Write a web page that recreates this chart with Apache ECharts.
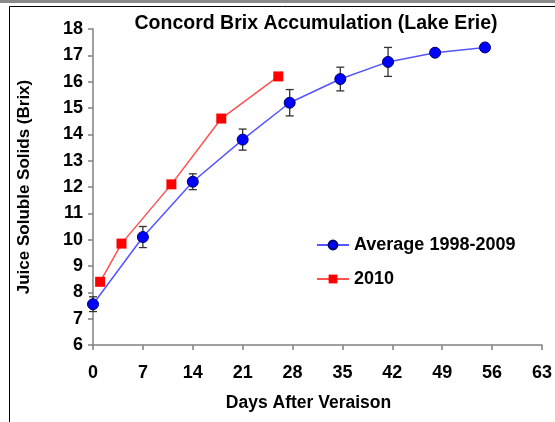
<!DOCTYPE html>
<html><head><meta charset="utf-8">
<script src="https://cdn.jsdelivr.net/npm/echarts@6/dist/echarts.min.js"></script>
<style>html,body{margin:0;padding:0;background:#fff}#c{width:555px;height:422px}</style>
</head><body><div id="c"></div>
<script>
var avgDays = [0, 7, 14, 21, 27.6, 34.7, 41.4, 48, 55];
var avgBrix = [7.55, 10.1, 12.2, 13.8, 15.2, 16.1, 16.75, 17.1, 17.3];
var avgErr  = [0.28, 0.4, 0.3, 0.4, 0.5, 0.45, 0.55, 0, 0];
var days2010 = [1, 4, 11, 18, 26];
var brix2010 = [8.4, 9.85, 12.1, 14.6, 16.2];
var xTicks = [0, 63, 7];
var yTicks = [6, 18, 1];

var avgData = avgDays.map(function(d,i){return [d, avgBrix[i]];});
var errData = avgDays.map(function(d,i){return [d, avgBrix[i]-avgErr[i], avgBrix[i]+avgErr[i]];}).filter(function(r){return r[2]>r[1];});
var data2010 = days2010.map(function(d,i){return [d, brix2010[i]];});

var font = 'Liberation Sans, Arial, sans-serif';
var chart = echarts.init(document.getElementById('c'));
chart.setOption({
  animation: false,
  backgroundColor: '#fff',
  title: {text: 'Concord Brix Accumulation (Lake Erie)', left: 311, top: 9, textAlign: 'center',
    textStyle: {fontFamily: font, fontWeight: 'bold', fontSize: 19.5, color: '#000'}},
  grid: {left: 93, right: 10, top: 29, bottom: 77, containLabel: false},
  legend: {orient: 'vertical', left: 311, top: 231, itemWidth: 32, itemHeight: 11, itemGap: 16,
    textStyle: {fontFamily: font, fontWeight: 'bold', fontSize: 18, color: '#000'},
    data: ['Average 1998-2009', '2010']},
  xAxis: {type: 'value', min: xTicks[0], max: xTicks[1], interval: xTicks[2],
    name: 'Days After Veraison', nameLocation: 'middle', nameGap: 49,
    nameTextStyle: {fontFamily: font, fontWeight: 'bold', fontSize: 17.5, color: '#000', padding: [0, 18, 0, 0]},
    axisLine: {lineStyle: {color: '#808080', width: 1.5}},
    axisTick: {length: 5, lineStyle: {color: '#808080', width: 1.5}},
    axisLabel: {margin: 19, fontFamily: font, fontWeight: 'bold', fontSize: 18, color: '#000'},
    splitLine: {show: false}},
  yAxis: {type: 'value', min: yTicks[0], max: yTicks[1], interval: yTicks[2],
    name: 'Juice Soluble Solids (Brix)', nameLocation: 'middle', nameGap: 60,
    nameTextStyle: {fontFamily: font, fontWeight: 'bold', fontSize: 17, color: '#000'},
    axisLine: {show: true, lineStyle: {color: '#808080', width: 1.5}},
    axisTick: {show: true, length: 5, lineStyle: {color: '#808080', width: 1.5}},
    axisLabel: {margin: 10, fontFamily: font, fontWeight: 'bold', fontSize: 18, color: '#000'},
    splitLine: {show: false}},
  series: [
    {name: 'Average 1998-2009', type: 'line', data: avgData, symbol: 'circle', symbolSize: 11,
      lineStyle: {color: '#5555ff', width: 1.5},
      itemStyle: {color: '#0000ff', borderColor: '#00006a', borderWidth: 1}, z: 3},
    {name: '2010', type: 'line', data: data2010, symbol: 'rect', symbolSize: 10,
      lineStyle: {color: '#ff5050', width: 1.5},
      itemStyle: {color: '#ff0000'}, z: 3},
    {name: 'err', type: 'custom', data: errData, z: 2,
      renderItem: function(params, api){
        var x = api.value(0), lo = api.value(1), hi = api.value(2);
        var p1 = api.coord([x, lo]), p2 = api.coord([x, hi]);
        var w = 4;
        var st = {stroke: '#333', lineWidth: 1.3, fill: 'none'};
        return {type: 'group', children: [
          {type: 'line', shape: {x1: p1[0], y1: p1[1], x2: p2[0], y2: p2[1]}, style: st},
          {type: 'line', shape: {x1: p1[0]-w, y1: p1[1], x2: p1[0]+w, y2: p1[1]}, style: st},
          {type: 'line', shape: {x1: p2[0]-w, y1: p2[1], x2: p2[0]+w, y2: p2[1]}, style: st}
        ]};
      }}
  ],
  graphic: [
    {type: 'rect', shape: {x: 0, y: 0, width: 555, height: 3}, style: {fill: '#8a8a8a'}, silent: true},
    {type: 'rect', shape: {x: 9.5, y: 6.5, width: 600, height: 500}, style: {fill: 'none', stroke: '#000', lineWidth: 1}, silent: true}
  ]
});
</script></body></html>
